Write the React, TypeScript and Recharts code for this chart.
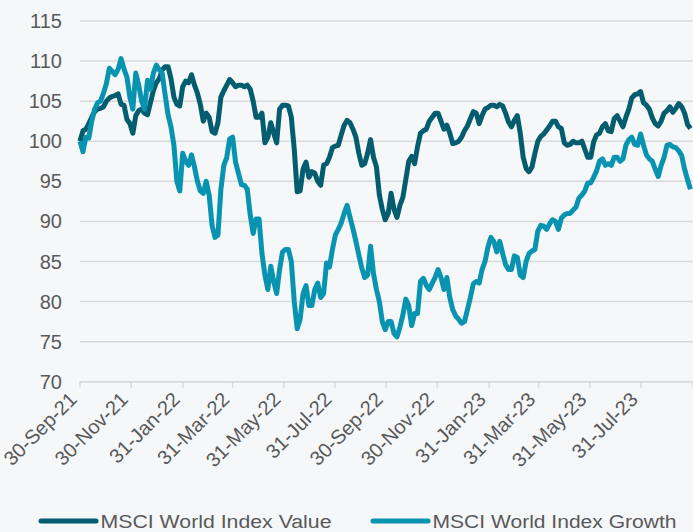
import React from 'react';
import { LineChart, Line, XAxis, YAxis, CartesianGrid, Legend } from 'recharts';

// Half-weekly observations (every 3.5 days) starting 30-Sep-21, index rebased to 100
const valueIndex = [
  100.0, 101.3, 101.5, 102.2, 103.0, 103.7, 104.0, 104.1, 104.3, 105.0,
  105.4, 105.6, 105.7, 105.9, 104.6, 104.5, 102.7, 102.2, 101.0, 103.2,
  103.8, 104.0, 103.5, 103.3, 104.8, 106.3, 107.3, 107.8, 108.9, 109.3,
  109.3, 107.8, 105.5, 104.6, 104.4, 106.8, 107.5, 107.3, 108.3, 107.0,
  106.0, 104.6, 102.5, 103.5, 103.0, 101.2, 101.0, 102.3, 105.5, 106.3,
  107.0, 107.7, 107.3, 106.8, 107.0, 107.0, 106.8, 107.0, 106.5, 105.0,
  103.0, 103.0, 103.5, 99.8, 100.5, 102.3, 101.0, 99.8, 104.0, 104.5,
  104.5, 104.4, 103.0, 99.0, 93.7, 93.8, 96.5, 97.4, 95.5, 96.2,
  96.0, 95.0, 94.5, 97.0, 97.2, 98.0, 99.2, 99.4, 99.5, 100.8,
  102.0, 102.6, 102.3, 101.5, 100.5, 98.5, 97.0, 97.2, 98.5, 100.2,
  98.0, 96.8, 93.3, 91.5, 90.2, 91.0, 93.5, 91.5, 90.5, 92.0,
  93.0, 95.2, 97.5, 98.1, 97.2, 99.3, 101.0, 101.3, 101.5, 102.5,
  103.0, 103.5, 103.5, 102.5, 101.5, 102.0, 101.0, 99.7, 99.8, 100.0,
  100.5, 101.3, 101.9, 102.8, 103.7, 103.5, 102.2, 103.2, 104.0, 104.2,
  104.5, 104.5, 104.3, 104.6, 104.4, 103.5, 102.4, 101.8, 102.6, 103.2,
  101.0, 98.0, 96.6, 96.2, 96.8, 98.5, 100.0, 100.6, 100.9, 101.4,
  101.9, 102.5, 102.5, 101.8, 101.6, 99.8, 99.5, 99.6, 100.0, 99.8,
  99.8, 100.0, 99.0, 98.0, 98.0, 99.9, 100.8, 101.0, 101.8, 102.2,
  101.3, 101.2, 102.8, 103.2, 102.5, 101.8, 103.0, 104.0, 105.4, 105.8,
  105.9, 106.2, 104.8, 104.5, 104.0, 102.9, 102.2, 101.9, 102.5, 103.5,
  103.8, 104.3, 103.6, 104.1, 104.7, 104.3, 103.5, 102.1, 101.6,
];

const growthIndex = [
  100.0, 98.7, 100.5, 100.4, 102.5, 104.0, 104.8, 105.0, 106.0, 107.2,
  109.1, 108.7, 108.3, 109.0, 110.3, 109.0, 108.0, 105.5, 104.0, 108.5,
  107.0, 105.0, 104.0, 107.6, 106.5, 108.5, 109.5, 108.9, 108.5, 105.8,
  103.3, 101.8, 99.5, 95.0, 93.8, 98.5, 97.5, 97.0, 98.3, 96.8,
  95.0, 93.8, 93.5, 95.0, 93.3, 89.5, 88.0, 88.3, 94.0, 97.0,
  98.0, 100.3, 100.5, 97.4, 96.0, 94.6, 94.5, 94.0, 90.8, 88.5,
  90.3, 90.3, 86.0, 83.3, 81.5, 84.4, 82.5, 81.0, 84.0, 86.2,
  86.5, 86.5, 85.0, 80.0, 76.6, 77.8, 81.0, 82.0, 79.5, 79.5,
  81.5, 82.3, 80.5, 81.0, 84.8, 84.3, 86.5, 88.3, 89.0, 89.8,
  91.0, 92.0, 90.5, 89.1, 87.5, 85.8, 84.2, 83.0, 83.3, 86.9,
  83.5, 81.5, 80.0, 77.5, 76.5, 77.5, 77.5, 76.0, 75.6, 76.8,
  78.3, 80.3, 79.5, 77.0, 78.5, 78.5, 82.5, 82.9, 82.0, 81.5,
  82.3, 83.0, 84.0, 83.0, 81.5, 83.0, 80.5, 79.0, 78.2, 77.8,
  77.3, 77.5, 79.0, 80.5, 82.2, 82.5, 82.3, 84.0, 85.0, 86.8,
  88.0, 87.5, 86.2, 87.5, 86.0, 84.6, 84.0, 84.0, 85.7, 85.5,
  83.3, 83.0, 85.0, 86.0, 86.3, 86.5, 88.8, 89.5, 89.4, 89.0,
  89.7, 90.2, 90.0, 89.0, 90.4, 90.8, 91.0, 91.0, 91.4, 91.8,
  92.9, 93.3, 93.8, 94.8, 94.8, 95.5, 96.3, 97.5, 97.8, 97.0,
  97.2, 97.0, 98.0, 98.0, 97.5, 97.8, 99.5, 100.2, 100.5, 99.6,
  99.5, 100.9, 99.5, 98.3, 97.8, 97.5, 96.5, 95.6, 97.0, 98.0,
  99.5, 99.6, 99.3, 99.2, 98.8, 98.2, 96.5, 95.2, 94.0,
];

// Days since 30-Sep-21 for each axis tick
const tickDays = [0, 61, 123, 182, 243, 304, 365, 426, 488, 547, 608, 669, 731];
const tickLabels = [
  '30-Sep-21', '30-Nov-21', '31-Jan-22', '31-Mar-22', '31-May-22', '31-Jul-22',
  '30-Sep-22', '30-Nov-22', '31-Jan-23', '31-Mar-23', '31-May-23', '31-Jul-23', '',
];
const yTicks = [70, 75, 80, 85, 90, 95, 100, 105, 110, 115];

const seriesNames = ['MSCI World Index Value', 'MSCI World Index Growth'];
const VALUE_COLOR = '#035D6E';
const GROWTH_COLOR = '#0893B1';
const TEXT_COLOR = '#595959';
const GRID_COLOR = '#D9D9D9';
const FONT = '"Liberation Sans", Arial, sans-serif';

const data = valueIndex.map((v, i) => ({
  day: i * 3.5,
  value: v,
  growth: growthIndex[i],
}));

const XTick = (props: any) => {
  const { x, y, payload } = props;
  const idx = tickDays.indexOf(payload.value);
  const label = idx >= 0 ? tickLabels[idx] : '';
  return (
    <g transform={`translate(${x - 2},${y + 13})`}>
      <text
        transform="rotate(-45)"
        textAnchor="end"
        fill={TEXT_COLOR}
        fontSize={20}
        fontFamily={FONT}
      >
        {label}
      </text>
    </g>
  );
};

const LegendContent = () => (
  <svg width={693} height={30} style={{ display: 'block' }}>
    <line x1={41} y1={19} x2={96} y2={19} stroke={VALUE_COLOR} strokeWidth={5} strokeLinecap="round" />
    <text x={100.5} y={25.7} fontSize={18} fontFamily={FONT} fill={TEXT_COLOR}
      textLength={231} lengthAdjust="spacingAndGlyphs">{seriesNames[0]}</text>
    <line x1={373} y1={19} x2={428} y2={19} stroke={GROWTH_COLOR} strokeWidth={5} strokeLinecap="round" />
    <text x={432.5} y={25.7} fontSize={18} fontFamily={FONT} fill={TEXT_COLOR}
      textLength={244} lengthAdjust="spacingAndGlyphs">{seriesNames[1]}</text>
  </svg>
);

export default function App() {
  return (
    <div style={{ position: 'absolute', left: 0, top: 0, width: 693, height: 532, background: '#F5F7F9' }}>
      <LineChart
        width={693}
        height={532}
        data={data}
        margin={{ top: 21, right: 0, bottom: 0, left: 0 }}
      >
        <CartesianGrid vertical={false} stroke={GRID_COLOR} strokeWidth={1.5} />
        <XAxis
          dataKey="day"
          type="number"
          domain={[0, 731]}
          ticks={tickDays}
          interval={0}
          height={120}
          axisLine={{ stroke: GRID_COLOR, strokeWidth: 1.5 }}
          tickLine={{ stroke: GRID_COLOR, strokeWidth: 1.5 }}
          tickSize={6}
          tickMargin={0}
          tick={<XTick />}
        />
        <YAxis
          domain={[70, 115]}
          ticks={yTicks}
          interval={0}
          width={80}
          axisLine={false}
          tickLine={false}
          tickSize={0}
          tickMargin={18}
          tick={{ fill: TEXT_COLOR, fontSize: 20, fontFamily: FONT }}
        />
        <Legend verticalAlign="bottom" height={30.3} content={<LegendContent />} />
        <Line
          type="linear"
          dataKey="value"
          name={seriesNames[0]}
          stroke={VALUE_COLOR}
          strokeWidth={5}
          strokeLinejoin="round"
          dot={false}
          isAnimationActive={false}
        />
        <Line
          type="linear"
          dataKey="growth"
          name={seriesNames[1]}
          stroke={GROWTH_COLOR}
          strokeWidth={5}
          strokeLinejoin="round"
          dot={false}
          isAnimationActive={false}
        />
      </LineChart>
    </div>
  );
}
